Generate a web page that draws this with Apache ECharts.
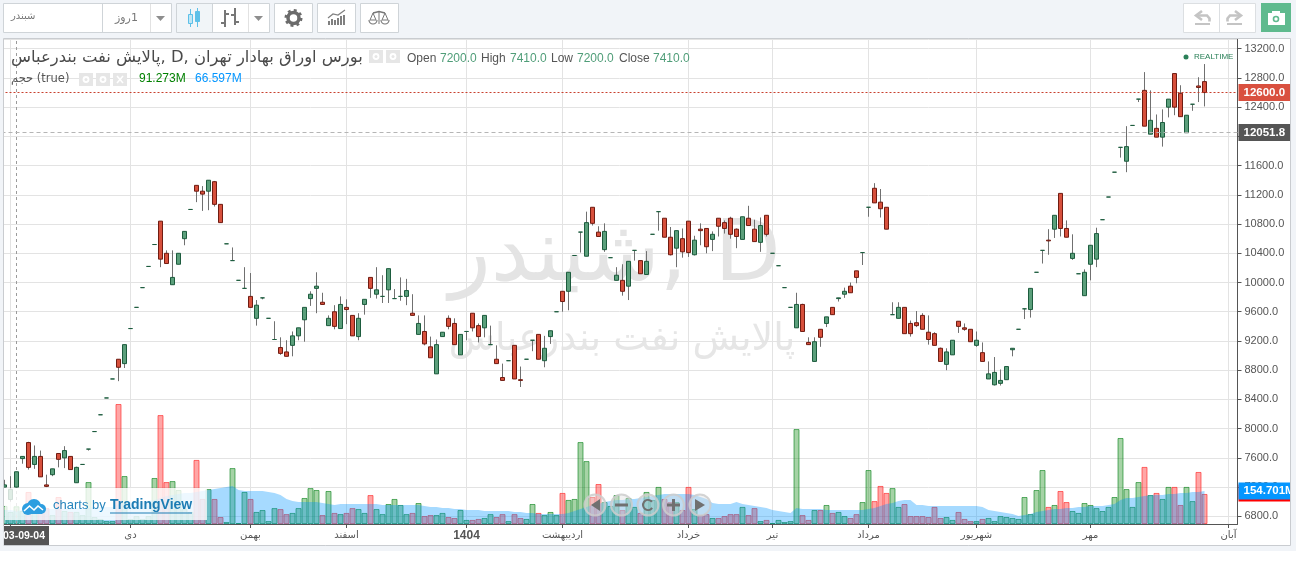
<!DOCTYPE html>
<html><head><meta charset="utf-8">
<style>html,body{margin:0;padding:0;background:#fff;overflow:hidden}#c{width:1298px;height:564px}</style>
<script src="https://cdn.jsdelivr.net/npm/echarts@6/dist/echarts.min.js"></script>
</head><body><div id="c"></div>
<script>
const opens=[7200,7030,7200,7590,7810,7510,7620,7230,7370,7660,
7600,7620,7260,7510,7720,7960,8190,8420,8680,8950,
8890,9370,9660,9930,10220,10520,10840,10400,9970,10250,
10600,11000,11330,11250,11250,11380,11070,10530,10300,10030,
9920,9810,9510,9790,9510,9220,9110,9050,9140,9270,
9490,9780,9920,9730,9410,9600,9370,9660,9550,9260,
9700,10070,9840,9810,9900,9780,9810,9810,9580,9290,
9330,9120,8750,9260,9510,9440,9010,9330,9580,9410,
9380,9150,8950,8700,8930,9140,8670,8950,9210,9290,
8930,9260,9600,9880,9880,10370,10690,10360,11030,10690,
10450,10340,10030,10030,9950,10440,10300,10110,10660,10970,
10880,10620,10470,10600,10840,10380,10730,10740,10590,10880,
10820,10880,10730,10590,10880,10730,10550,10920,10400,10230,
9930,9660,9380,9700,9180,8920,9360,9440,9660,9780,
9840,9950,10160,10410,11030,11290,11100,11030,9560,9510,
9660,9440,9450,9550,9320,9300,9100,8880,9010,9470,
9380,9360,9140,9040,8680,8600,8620,8670,9080,9360,
9640,9630,10140,10440,10580,10730,11220,10740,10330,10120,
9820,10250,10320,10860,11170,11510,11850,11660,12150,12510,
12630,12030,12110,11990,12400,12860,12590,12050,12440,12690,
12750];
const closes=[7230,7170,7410,7620,7470,7620,7340,7210,7450,7580,
7700,7440,7470,7510,7720,7960,8190,8420,8680,8840,
9150,9370,9660,9930,10220,10520,10320,10260,10070,10400,
10700,11000,11250,11210,11400,11070,10820,10530,10300,10030,
9920,9660,9690,9790,9510,9220,9030,8990,9270,9380,
9660,9840,9950,9700,9510,9400,9700,9630,9270,9510,
9770,9920,9900,9810,10190,9780,9810,9890,9550,9440,
9160,8970,9150,9320,9400,9150,9290,9330,9380,9260,
9550,9150,8890,8660,8930,8680,8660,8950,9210,8950,
9100,9340,9600,9740,10140,10370,10690,10820,10810,10630,
10700,10340,10100,9880,10290,10440,10120,10290,10660,10970,
10620,10380,10710,10420,10410,10580,10710,10490,10660,10770,
10740,10660,10630,10900,10780,10560,10780,10660,10400,10230,
9930,9660,9700,9330,9150,9190,9250,9530,9560,9790,
9880,9860,10070,10410,11030,11090,11010,10730,9560,9660,
9300,9300,9410,9360,9220,9140,8920,9050,9210,9400,
9360,9190,9210,8920,8750,8770,8660,8850,9100,9360,
9640,9920,10140,10440,10570,10920,10740,10620,10400,10120,
10140,10510,10670,10860,11170,11510,11850,11860,12150,12510,
12140,12220,11990,12190,12510,12400,12270,12290,12440,12670,
12600];
const lows=[7200,7000,7200,7520,7440,7450,7340,7200,7350,7470,
7460,7440,7260,7510,7700,7960,8190,8420,8680,8650,
8830,9370,9660,9930,10220,10520,10210,10260,9970,10250,
10510,11000,11100,10980,10990,11040,10820,10530,10300,10030,
9920,9660,9410,9770,9510,9220,9010,8990,8990,9210,
9190,9680,9580,9700,9410,9360,9370,9430,9270,9210,
9560,9790,9780,9720,9720,9780,9750,9690,9550,9290,
9140,8970,8750,9260,9360,9150,9010,9210,9330,9180,
9250,9150,8890,8660,8930,8680,8570,8950,9060,8950,
8840,9160,9600,9600,9620,10370,10410,10360,10780,10630,
10420,10340,10030,9820,9760,10300,10120,10110,10660,10710,
10620,10370,10210,10340,10350,10370,10510,10400,10430,10630,
10670,10600,10470,10590,10780,10560,10420,10630,10400,10230,
9930,9660,9380,9330,9150,8920,9120,9390,9560,9740,
9790,9860,9990,10240,10900,11090,10890,10730,9560,9510,
9300,9260,9390,9360,9150,9140,8920,8800,9010,9310,
9340,9190,9120,8920,8680,8590,8590,8670,8990,9360,
9500,9520,10140,10260,10380,10610,10630,10620,10310,10120,
9820,10030,10210,10860,11170,11510,11710,11510,12150,12470,
12140,12030,11990,11860,12260,12290,12270,12050,12350,12470,
12410];
const highs=[7300,7350,7410,7620,7820,7770,7700,7370,7450,7660,
7760,7620,7480,7510,7720,7960,8190,8420,8680,8950,
9150,9370,9660,9930,10220,10520,10840,10440,10440,10400,
10700,11000,11330,11320,11400,11390,11070,10530,10480,10030,
10210,10130,9760,9790,9510,9470,9250,9210,9330,9380,
9660,9880,10140,9860,9550,9690,9810,9770,9550,9580,
9770,10070,10210,10100,10190,9910,10070,10050,9840,9550,
9550,9260,9220,9320,9550,9510,9290,9330,9580,9440,
9550,9410,9140,8890,8930,9140,8850,8950,9210,9290,
9270,9340,9600,9880,10140,10370,10690,10970,11030,10770,
10810,10340,10210,10250,10290,10440,10300,10430,10660,10970,
10880,10760,10710,10740,10840,10640,10810,10740,10700,10880,
10850,10900,10740,10900,11050,10860,10890,10920,10400,10230,
9930,9660,9860,9710,9250,9250,9360,9530,9660,9790,
9930,10000,10160,10410,11030,11360,11280,11030,9730,9730,
9660,9480,9610,9580,9550,9320,9110,9100,9210,9470,
9440,9360,9330,9180,8920,8980,8810,8850,9100,9360,
9640,9920,10140,10440,10730,10920,11220,10850,10660,10120,
10180,10510,10750,10860,11170,11510,11850,12140,12150,12510,
12880,12630,12300,12370,12510,12860,12700,12290,12440,12810,
12990];
const volumes=[93,62,91.273,67,165,77,82,82,46,139,
67,62,62,46,216,36,26,15,15,618,
247,26,41,26,41,237,561,216,221,175,
77,62,330,129,180,129,36,10,288,5,
165,129,62,72,15,82,77,51,57,82,
134,185,175,46,170,57,51,57,82,77,
57,149,77,51,103,129,98,51,57,108,
41,46,46,57,36,31,72,21,21,26,
31,51,36,51,15,51,31,26,103,57,
46,62,46,160,124,129,422,324,139,206,
113,93,149,72,134,88,57,165,124,191,
129,113,113,72,191,77,46,51,31,31,
41,51,51,88,46,82,15,21,5,21,
10,15,489,46,21,72,72,98,57,62,
41,31,51,113,278,118,196,160,185,88,
103,41,41,41,36,88,31,36,21,62,
26,15,15,26,31,15,41,36,31,26,
139,51,175,278,88,98,170,113,67,57,
108,98,82,67,88,139,443,180,88,216,
294,149,160,129,191,191,98,191,118,268,
154.701];
const volumeAverage=[72,72,66.597,72,77,77,77,77,77,77,
77,77,82,82,82,88,88,88,88,103,
108,113,113,113,118,124,134,144,149,155,
160,160,165,170,175,180,185,191,196,175,
170,170,170,170,165,160,149,129,118,113,
113,113,113,108,103,98,103,103,103,103,
103,103,103,98,98,98,98,98,98,98,
93,88,88,82,82,77,77,72,72,72,
67,67,67,67,67,62,62,57,57,52,
52,52,52,52,57,67,77,88,98,103,
113,118,124,124,129,129,134,139,144,149,
155,155,155,155,155,149,139,129,108,103,
103,103,113,103,98,93,88,82,72,67,
62,57,82,77,77,77,77,72,72,72,
72,72,72,72,77,82,93,103,108,118,
124,124,98,98,93,93,93,93,93,93,
93,93,93,88,72,67,62,57,52,41,
46,52,62,67,72,77,77,82,82,88,
88,93,93,93,98,103,124,134,134,139,
144,149,149,149,155,155,160,160,165,165,
170];
const categoryCount=206;
const tickIndexes=[1,21,41,57,77,93,114,128,144,162,181,204];
const tickLabels=['آذر','دی','بهمن','اسفند','1404','اردیبهشت','خرداد','تیر','مرداد','شهریور','مهر','آبان'];
const priceTicks=400, lastPrice=12600, prevClose=12051.8, crosshairIndex=2;

const categories=new Array(categoryCount).fill('');
tickIndexes.forEach((p,k)=>{categories[p]=tickLabels[k];});
const ohlc=opens.map((o,i)=>[o,closes[i],lows[i],highs[i]]);
const bodies=opens.map((o,i)=>[o,closes[i],Math.min(o,closes[i]),Math.max(o,closes[i])]);
const AR='"DejaVu Sans",sans-serif', LT='"Liberation Sans",Arial,sans-serif';
const isTick=(i,v)=>v!=='';
const volItems=volumes.map((v,i)=>{
  const down=closes[i]<opens[i];
  return {value:v,itemStyle:{color:down?'rgba(255,0,0,0.35)':'rgba(0,128,0,0.35)',
    borderColor:down?'rgba(255,40,40,0.65)':'rgba(0,128,20,0.6)',borderWidth:1}};
});

// page chrome
const G=[];
const rect=(x,y,w,h,fill,stroke,z)=>G.push({type:'rect',silent:true,z:z,shape:{x,y,width:w,height:h},style:{fill:fill||'none',stroke:stroke||'none',lineWidth:1}});
const txt=(x,y,t,o,z)=>G.push({type:'text',silent:true,z:z,x,y,style:Object.assign({text:t,fill:'#555',font:'12px '+LT,verticalAlign:'middle',align:'left'},o||{})});
const poly=(pts,stroke,w,z,fill)=>G.push({type:fill?'polygon':'polyline',silent:true,z:z,shape:{points:pts},style:{stroke:stroke||'none',fill:fill||'none',lineWidth:w||1}});
const circ=(cx,cy,r,fill,stroke,w,z,dash)=>G.push({type:'circle',silent:true,z:z,shape:{cx,cy,r},style:{fill:fill||'none',stroke:stroke||'none',lineWidth:w||1,lineDash:dash}});
const line=(a,b,c,d,s,z,w)=>G.push({type:'line',silent:true,z:z,shape:{x1:a,y1:b,x2:c,y2:d},style:{stroke:s,lineWidth:w||1}});
// backgrounds
rect(0,0,1296,551,'#f1f4f8',null,-20);
rect(4,39,1286,506,'#ffffff',null,-19);
// watermark
txt(615,258,'شبندر, D',{fill:'#e4e4e4',font:'86px '+AR,align:'center'},-5);
txt(622,340,'پالایش نفت بندرعباس',{fill:'#e6e6e6',font:'38px '+AR,align:'center'},-5);
// masks + frame (on top of plot edges)
const Z=60;
rect(0,0,3,551,'#f1f4f8',null,Z);
rect(1291,0,5,551,'#f1f4f8',null,Z);
rect(1296,0,2,564,'#ffffff',null,Z);
rect(3.5,38.5,1287,507,null,'#c9ccd0',Z+1);
// title rows
txt(11,58,'پالایش نفت بندرعباس, D, بورس اوراق بهادار تهران',{fill:'#4a4a4a',font:'16.4px '+AR},Z);
const boxes=[[369,50],[386,50],[79,73],[96,73],[113,73]];
boxes.forEach(b=>rect(b[0],b[1],14,13,'#e6e6e6',null,Z));
[[376,56.5],[393,56.5],[86,79.5],[103,79.5]].forEach(c=>{circ(c[0],c[1],3.4,'#fff',null,1,Z+1);circ(c[0],c[1],1.5,'#e6e6e6',null,1,Z+1);});
line(117,76,123,83,'#fff',Z+1,1.5);line(123,76,117,83,'#fff',Z+1,1.5);
[['Open',407,'#555'],['7200.0',440,'#4f9d78'],['High',481,'#555'],['7410.0',510,'#4f9d78'],['Low',551,'#555'],['7200.0',577,'#4f9d78'],['Close',619,'#555'],['7410.0',653,'#4f9d78']]
 .forEach(a=>txt(a[1],58.5,a[0],{fill:a[2],font:'12px '+LT},Z));
txt(11,79,'حجم (true)',{fill:'#555',font:'11.5px '+AR},Z);
txt(139,79,'91.273M',{fill:'#008000',font:'12px '+LT},Z);
txt(195,79,'66.597M',{fill:'#0496ff',font:'12px '+LT},Z);
circ(1186,57,2.5,'#2a8058',null,1,Z);
txt(1194,57,'REALTIME',{fill:'#2a8058',font:'8px '+LT},Z);
// crosshair date
rect(4,526,45,19,'#555555',null,Z);
txt(3,536,'03-09-04',{fill:'#fff',font:'bold 10.5px '+LT},Z+1);
rect(0,526,3.5,20,'#f1f4f8',null,Z+2);
// TradingView badge
rect(5,488,202,32,'rgba(255,255,255,0.8)',null,Z);
circ(28,509,6,'#2d9ee0',null,1,Z+1);circ(34,506,7,'#2d9ee0',null,1,Z+1);circ(41,509,5,'#2d9ee0',null,1,Z+1);
rect(24,508,18,6,'#2d9ee0',null,Z+1);
poly([[24,511],[29.5,506],[34,510],[38,506],[43,510]],'#fff',1.6,Z+2);
txt(53,505.5,'charts by',{fill:'#2685bd',font:'13px '+LT},Z+1);
txt(110,505.5,'TradingView',{fill:'#1c7cb4',font:'bold 14px '+LT},Z+1);
line(110,513,192,513,'#1c7cb4',Z+1,1);
// zoom controls
[[595,0],[621.5,1],[648,2],[673.5,3],[700,4]].forEach(a=>circ(a[0],505,10.5,'rgba(225,225,225,0.42)','rgba(205,205,205,0.85)',2,Z));
poly([[600,499],[600,511],[591,505]],null,1,Z+1,'#707070');
rect(615,503.5,13,3,'#707070',null,Z+1);
G.push({type:'arc',silent:true,z:Z+1,shape:{cx:648,cy:505,r:5,startAngle:0.6,endAngle:5.6},style:{stroke:'#707070',fill:'none',lineWidth:2}});
rect(667,503.5,13,3,'#707070',null,Z+1);rect(672,499,3,12,'#707070',null,Z+1);
poly([[695,499],[695,511],[705,505]],null,1,Z+1,'#707070');
// toolbar
const B='#cfd4d8';
rect(3.5,3.5,168,29,'#fff',B,Z);line(102.5,4,102.5,32,B,Z);line(150.5,4,150.5,32,'#e2e2e2',Z);
txt(11,16,'شبندر',{fill:'#777',font:'10px '+AR},Z);
txt(115,18.5,'روز\u200E1',{fill:'#777',font:'11px '+AR},Z);
poly([[156,16],[165,16],[160.5,21]],null,1,Z,'#8e8e8e');
rect(176.5,3.5,93,29,'#fff',B,Z);rect(177,4,35,28,'#f1f5f8',null,Z);line(212.5,4,212.5,32,B,Z);line(248.5,4,248.5,32,'#e2e2e2',Z);
line(190.5,9,190.5,27,'#5dc0e8',Z);rect(188.5,14.5,4,9,'#bfe6f5','#5dc0e8',Z+1);
line(197.5,8,197.5,27,'#5dc0e8',Z);rect(195.5,11.5,4,10,'#5dc0e8','#5dc0e8',Z+1);
rect(224,10,2,17,'#777',null,Z);rect(221,22,3,2,'#777',null,Z);rect(226,13,3,2,'#777',null,Z);
rect(234,8,2,17,'#777',null,Z);rect(231,14,3,2,'#777',null,Z);rect(236,21,3,2,'#777',null,Z);
poly([[254,16],[263,16],[258.5,21]],null,1,Z,'#8e8e8e');
rect(274.5,3.5,38,29,'#fff',B,Z);rect(317.5,3.5,38,29,'#fff',B,Z);rect(360.5,3.5,38,29,'#fff',B,Z);
circ(293.5,18,5.5,null,'#6b6b6b',3.5,Z+1);circ(293.5,18,7.5,null,'#6b6b6b',3,Z+1,[2.8,3.1]);
[[328,21,4],[331,19,6],[334,20,5],[337,18,7],[340,16,9],[343,15,10]].forEach(a=>rect(a[0],a[1],2,a[2],'#808080',null,Z+1));
poly([[328,18],[333,14],[338,15],[345,10]],'#808080',1.2,Z+1);
poly([[373,13],[379,11.5],[385,13]],'#777',1.3,Z+1);line(379,11,379,24,'#777',Z+1);
poly([[373,13],[370,20],[376,20],[373,13]],'#777',1,Z+1);poly([[385,13],[382,20],[388,20],[385,13]],'#777',1,Z+1);
G.push({type:'arc',silent:true,z:Z+1,shape:{cx:373,cy:20,r:4,startAngle:0,endAngle:Math.PI},style:{stroke:'#777',fill:'none',lineWidth:1.2}});
G.push({type:'arc',silent:true,z:Z+1,shape:{cx:385,cy:20,r:4,startAngle:0,endAngle:Math.PI},style:{stroke:'#777',fill:'none',lineWidth:1.2}});
rect(1183.5,3.5,72,29,'#fff','#dcdfe2',Z);line(1219.5,4,1219.5,32,'#dcdfe2',Z);
poly([[1202,11],[1196,15.5],[1202,20]],'#c4c4c4',2.6,Z);poly([[1196,15.5],[1207,15.5],[1209.5,18.5],[1209.5,21.5]],'#c4c4c4',2.6,Z);line(1195,24,1210,24,'#c4c4c4',Z,2);
poly([[1235,11],[1241,15.5],[1235,20]],'#c4c4c4',2.6,Z);poly([[1241,15.5],[1230,15.5],[1227.5,18.5],[1227.5,21.5]],'#c4c4c4',2.6,Z);line(1227,24,1242,24,'#c4c4c4',Z,2);
rect(1261,3,30,29,'#5fba8e',null,Z);
rect(1268,13,17,12,'#fff',null,Z+1);rect(1272,11,8,3,'#fff',null,Z+1);
circ(1276,19,3.3,'#5fba8e',null,1,Z+2);circ(1276,19,1.7,'#fff',null,1,Z+3);

const boxLabel=(bg,txtv,off)=>({show:true,position:'end',distance:1,formatter:txtv,color:'#fff',
  fontFamily:LT,fontSize:11.5,fontWeight:'bold',backgroundColor:bg,padding:[2,5,2,5],lineHeight:13,offset:off||[0,0]});

const chart=echarts.init(document.getElementById('c'),null,{renderer:'canvas',width:1298,height:564});
chart.setOption({
  animation:false,
  textStyle:{fontFamily:LT},
  grid:{left:1.5,top:39,width:1236,height:485,containLabel:false},
  graphic:{elements:G},
  xAxis:{type:'category',data:categories,boundaryGap:true,
    axisLine:{show:true,lineStyle:{color:'#555'}},
    axisTick:{show:true,length:4,alignWithLabel:true,interval:isTick,lineStyle:{color:'#555'}},
    splitLine:{show:true,alignWithLabel:true,interval:isTick,lineStyle:{color:'#e3e3e3'}},
    axisLabel:{interval:isTick,margin:6,color:'#555',fontFamily:AR,fontSize:10,hideOverlap:false,
      formatter:v=>v==='1404'?'{b|1404}':v,
      rich:{b:{fontFamily:LT,fontWeight:'bold',fontSize:12,color:'#555'}}}},
  yAxis:[{type:'value',position:'right',min:6695,max:13333,minInterval:priceTicks,maxInterval:priceTicks,
      axisLine:{show:true,lineStyle:{color:'#555'}},
      axisTick:{show:true,length:4,lineStyle:{color:'#555'}},
      splitLine:{show:true,lineStyle:{color:'#e3e3e3'}},
      axisLabel:{margin:7,color:'#555',fontFamily:LT,fontSize:11,showMinLabel:false,showMaxLabel:false,
        formatter:v=>v%priceTicks===0?v.toFixed(1):''}},
    {type:'value',show:false,min:0,max:2498,splitLine:{show:false}}],
  series:[
    {name:'volume',type:'bar',yAxisIndex:1,data:volItems,barWidth:6,z:2,silent:true,
      markLine:{silent:true,symbol:'none',animation:false,z:20,lineStyle:{width:0,color:'rgba(0,0,0,0)'},
        data:[{yAxis:volumes[200],label:boxLabel('#ff0000','154.701M',[0,-1])},
              {yAxis:volumes[200],label:boxLabel('#0496ff','154.701M',[0,-3])}]}},
    {name:'average',type:'line',yAxisIndex:1,data:volumeAverage,showSymbol:false,silent:true,z:3,
      lineStyle:{width:0},areaStyle:{color:'rgba(0,148,255,0.35)',opacity:1}},
    {name:'wicks',type:'candlestick',data:ohlc,barWidth:1,barMinWidth:0.1,z:5,silent:true,
      itemStyle:{color:'#707070',color0:'#707070',borderColor:'#707070',borderColor0:'#707070',borderColorDoji:'#707070',borderWidth:1},
      markLine:{silent:true,symbol:'none',animation:false,z:4,
        data:[{xAxis:crosshairIndex,lineStyle:{color:'#9b9b9b',type:[3,3],width:1},label:{show:false}}]}},
    {name:'price',type:'candlestick',data:bodies,barWidth:4,z:6,silent:true,
      itemStyle:{color:'#5b9f7b',color0:'#d7503c',borderColor:'#1d5c3e',borderColor0:'#701c12',borderColorDoji:'#1d5c3e',borderWidth:1},
      markLine:{silent:true,symbol:'none',animation:false,z:20,
        data:[{yAxis:lastPrice,lineStyle:{color:'#c8402e',type:[2,2],width:1},label:boxLabel('#d9503f','12600.0')},
              {yAxis:prevClose,lineStyle:{color:'#b5b5b5',type:[4,3],width:1},label:boxLabel('#555555','12051.8')}]}}
  ]
});
</script></body></html>
